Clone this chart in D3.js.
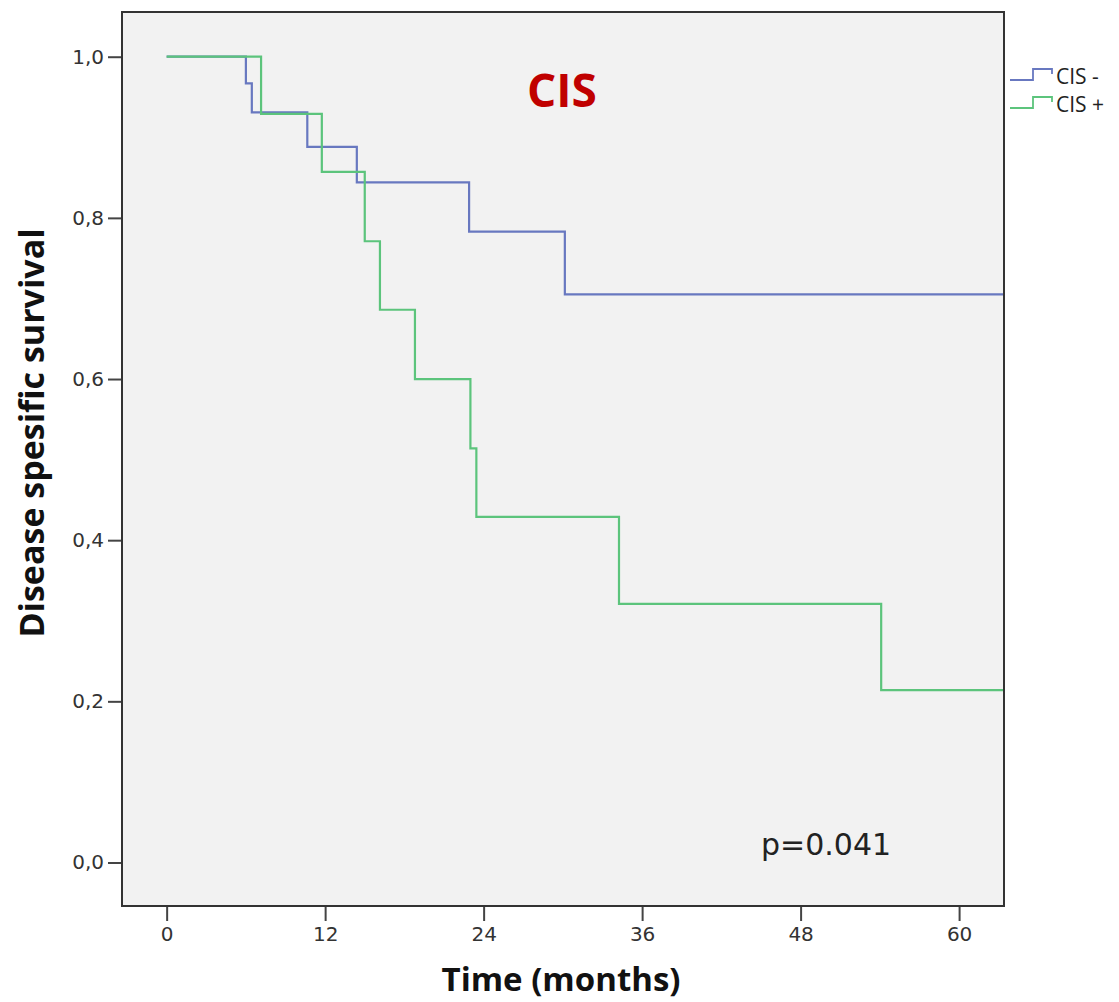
<!DOCTYPE html>
<html>
<head>
<meta charset="utf-8">
<script src="https://cdn.jsdelivr.net/npm/d3@7"></script>
<style>
  html, body { margin: 0; padding: 0; background: #ffffff; }
  svg { display: block; }
</style>
</head>
<body>
<svg id="chart" width="1119" height="1002"></svg>
<script>
// ---- Data ----
const seriesNames = ["CIS -", "CIS +"];
const cisNegTimes = [0, 6.0, 6.45, 10.65, 14.4, 22.9, 30.15, 63.4];
const cisNegSurv  = [1.0, 0.967, 0.931, 0.888, 0.844, 0.783, 0.705, 0.705];
const cisPosTimes = [0, 7.15, 11.75, 15.0, 16.15, 18.8, 23.0, 23.45, 34.25, 54.1, 63.4];
const cisPosSurv  = [1.0, 0.929, 0.857, 0.771, 0.686, 0.600, 0.514, 0.429, 0.321, 0.214, 0.214];
const xTicks = [0, 12, 24, 36, 48, 60];
const yTicks = [0.0, 0.2, 0.4, 0.6, 0.8, 1.0];
const yTickLabels = ["0,0", "0,2", "0,4", "0,6", "0,8", "1,0"];
const titleText = "CIS";
const pValueText = "p=0.041";
const xTitle = "Time (months)";
const yTitle = "Disease spesific survival";
const colors = ["#6878c0", "#5cc47c"];

// ---- Layout ----
const svg = d3.select("#chart");
const frame = { left: 122, right: 1004, top: 12, bottom: 906 };

const x = d3.scaleLinear().domain([-3.38, 63.4]).range([frame.left, frame.right]);
const y = d3.scaleLinear().domain([-0.054, 1.0555]).range([frame.bottom, frame.top]);

// plot background
svg.append("rect")
  .attr("x", frame.left).attr("y", frame.top)
  .attr("width", frame.right - frame.left).attr("height", frame.bottom - frame.top)
  .attr("fill", "#f2f2f2");

// axes
const tickFont = "'DejaVu Sans', sans-serif";
const xAxis = d3.axisBottom(x).tickValues(xTicks).tickSize(15).tickSizeOuter(0).tickPadding(6);
const gx = svg.append("g").attr("transform", `translate(0,${frame.bottom})`).call(xAxis);
gx.select(".domain").remove();
gx.selectAll(".tick line").attr("stroke", "#444").attr("stroke-width", 2);
gx.selectAll(".tick text").attr("font-family", tickFont).attr("font-size", 20).attr("fill", "#333");

const yAxis = d3.axisLeft(y).tickValues(yTicks).tickFormat((d, i) => yTickLabels[i])
  .tickSize(14).tickSizeOuter(0).tickPadding(4);
const gy = svg.append("g").attr("transform", `translate(${frame.left},0)`).call(yAxis);
gy.select(".domain").remove();
gy.selectAll(".tick line").attr("stroke", "#444").attr("stroke-width", 2);
gy.selectAll(".tick text").attr("font-family", tickFont).attr("font-size", 20).attr("fill", "#333");

// curves
const line = d3.line().x(d => x(d[0])).y(d => y(d[1])).curve(d3.curveStepAfter);
const series = [
  d3.zip(cisNegTimes, cisNegSurv),
  d3.zip(cisPosTimes, cisPosSurv)
];
series.forEach((s, i) => {
  svg.append("path").datum(s)
    .attr("d", line)
    .attr("fill", "none")
    .attr("stroke", colors[i])
    .attr("stroke-width", 2.2);
});

// frame
svg.append("rect")
  .attr("x", frame.left).attr("y", frame.top)
  .attr("width", frame.right - frame.left).attr("height", frame.bottom - frame.top)
  .attr("fill", "none").attr("stroke", "#333").attr("stroke-width", 2);

// title inside
svg.append("text")
  .attr("x", 562).attr("y", 107)
  .attr("text-anchor", "middle")
  .attr("font-family", "'Open Sans', sans-serif")
  .attr("font-weight", "bold")
  .attr("font-size", 46)
  .attr("fill", "#c00000")
  .text(titleText);

// p-value
svg.append("text")
  .attr("x", 761).attr("y", 855)
  .attr("font-family", tickFont)
  .attr("font-size", 30)
  .attr("fill", "#222")
  .text(pValueText);

// axis titles
svg.append("text")
  .attr("x", 561).attr("y", 991)
  .attr("text-anchor", "middle")
  .attr("font-family", "'Open Sans', sans-serif")
  .attr("font-weight", "bold")
  .attr("font-size", 33)
  .attr("fill", "#111")
  .text(xTitle);

svg.append("text")
  .attr("transform", "translate(44,433) rotate(-90)")
  .attr("text-anchor", "middle")
  .attr("font-family", "'Open Sans', sans-serif")
  .attr("font-weight", "bold")
  .attr("font-size", 34)
  .attr("fill", "#111")
  .text(yTitle);

// legend
const legendY = [80, 108];
seriesNames.forEach((name, i) => {
  const by = legendY[i];
  const pts = [[1010, by], [1033, by], [1033, by - 11], [1052, by - 11], [1052, by - 6]];
  svg.append("path")
    .attr("d", d3.line()(pts))
    .attr("fill", "none")
    .attr("stroke", colors[i])
    .attr("stroke-width", 1.8);
  svg.append("text")
    .attr("x", 1056).attr("y", by + 4)
    .attr("font-family", "'Open Sans', sans-serif")
    .attr("font-size", 21)
    .attr("fill", "#222")
    .text(name);
});
</script>
</body>
</html>
